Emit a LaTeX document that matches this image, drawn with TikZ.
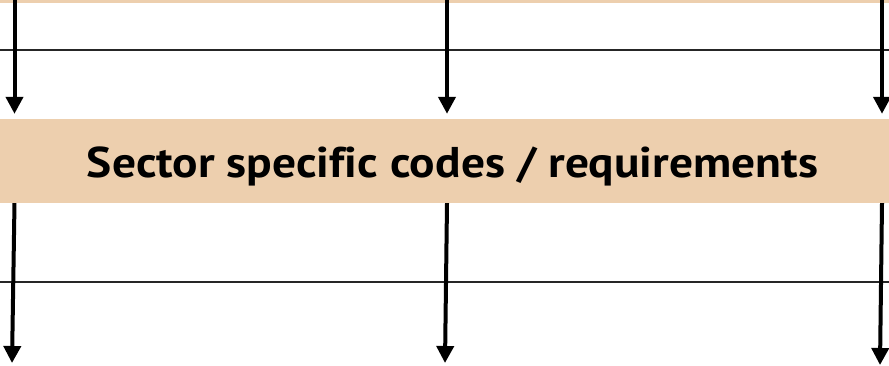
\documentclass[tikz,border=0pt]{standalone}
\usepackage{fontspec}
\setsansfont{PT Sans}[Ligatures=NoCommon]
\usetikzlibrary{arrows.meta,positioning}
\tikzset{>={Triangle[width=17pt,length=17pt]}}
\definecolor{tan}{RGB}{237,207,174}

\begin{document}
\begin{tikzpicture}[x=1pt,y=1pt]

\tikzstyle{flow}=[->,line width=4pt]
\tikzstyle{rule}=[line width=1.2pt,black!85]

 \useasboundingbox (0,0) rectangle (889,365);
 \fill[tan] (0,362) rectangle (889,365);
 \draw[rule] (0,315) -- (889,315);
 \draw[rule] (0,83) -- (889,83);

 \node (band) [fill=tan,minimum width=889pt,minimum height=84pt,inner sep=0pt]
  at (444.5,204) {};
 \node (txt) [anchor=base,inner sep=0pt,font=\sffamily\bfseries\fontsize{43}{43}\selectfont]
  at (452.5,188) {\resizebox{731pt}{\height}{Sector specific codes / requirements}};

 \coordinate (top1) at (14.5,365);
 \coordinate (top2) at (447,365);
 \coordinate (top3) at (882,365);
 \coordinate (bot1) at (12,2);
 \coordinate (bot2) at (445,2);
 \coordinate (bot3) at (880,0);

 \foreach \i in {1,2,3}
 {
  \draw[flow,shorten >=5pt] (top\i) -- (top\i |- band.north);
  \draw[flow] (top\i |- band.south) -- (bot\i);
 }
\end{tikzpicture}
\end{document}
